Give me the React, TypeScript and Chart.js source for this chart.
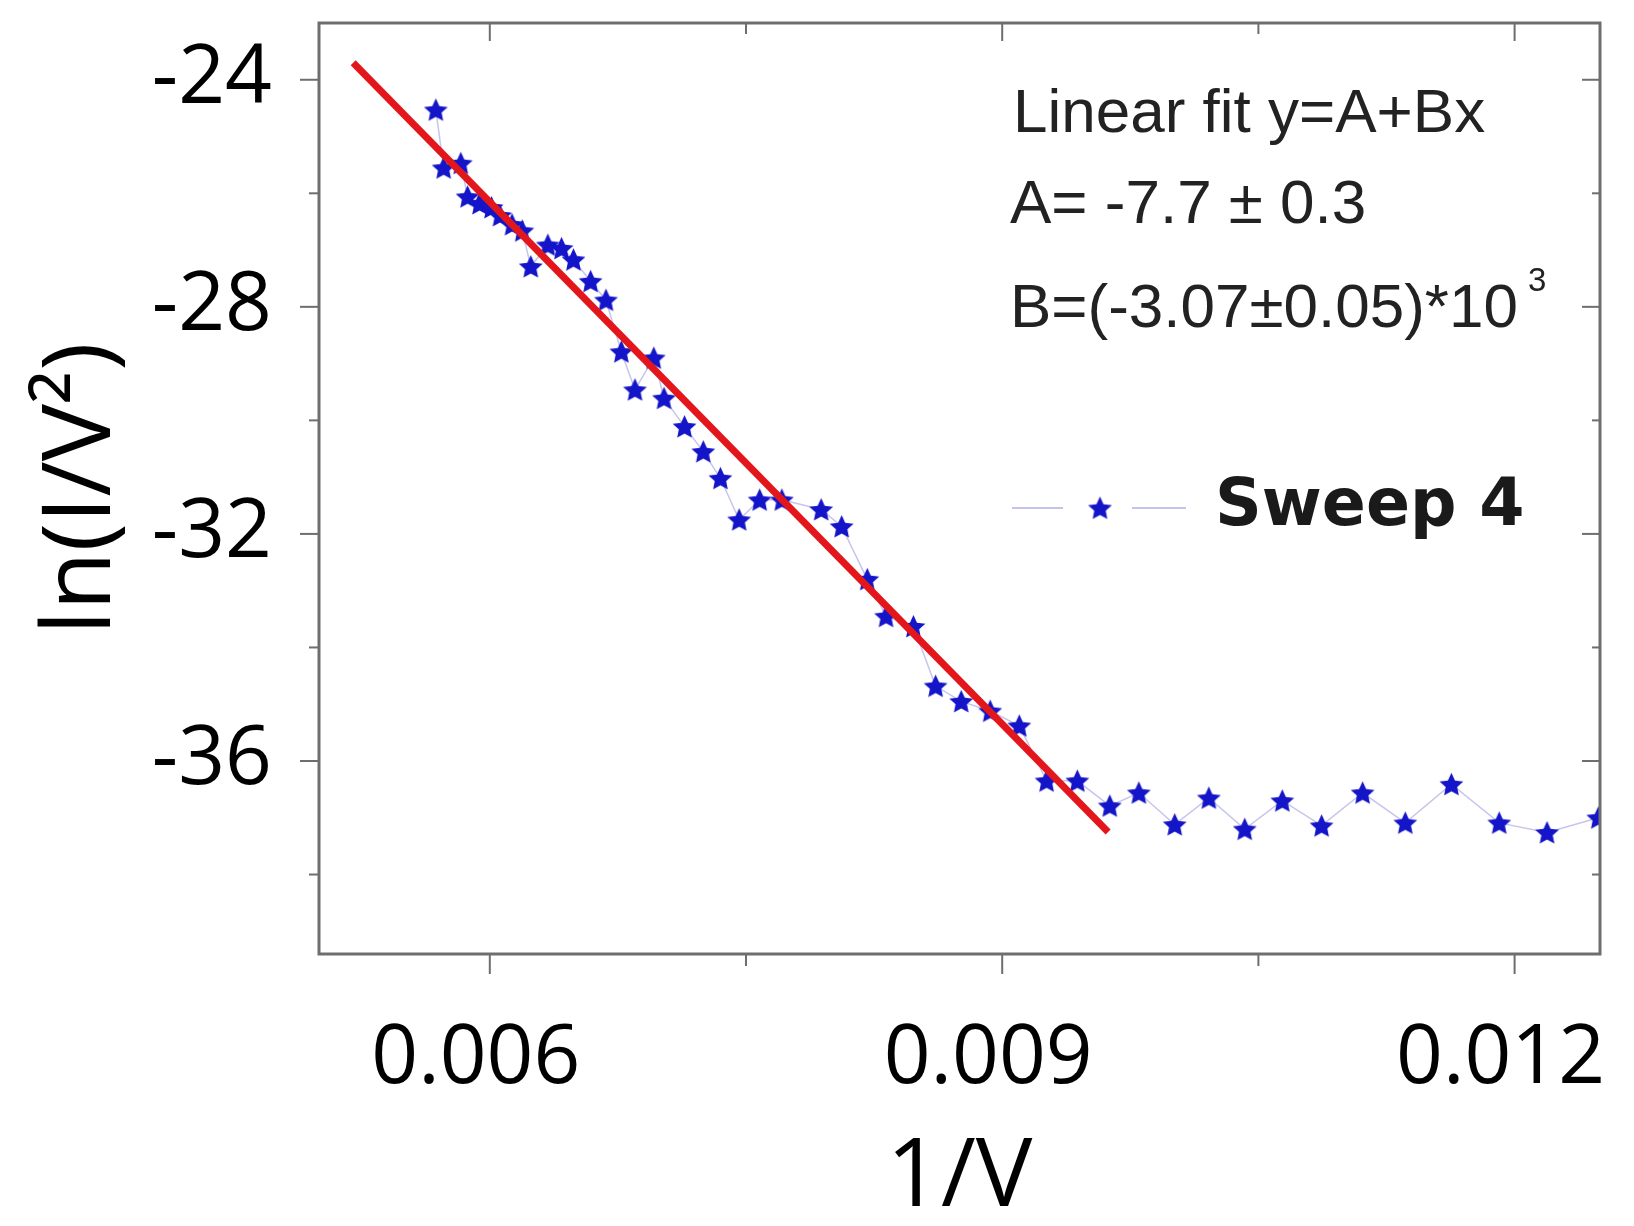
import React, { useEffect, useRef } from 'react';
import { Chart, registerables } from 'chart.js';

Chart.register(...registerables);

// ---- data ----
const sweepX = [
  0.005684, 0.00573, 0.00583, 0.00587, 0.00594, 0.00601, 0.00606, 0.00613, 0.00619, 0.00624,
  0.00634, 0.00642, 0.00649, 0.00659, 0.00668, 0.00677, 0.00685, 0.00696, 0.00702, 0.00714,
  0.00725, 0.00735, 0.00746, 0.00758, 0.00771, 0.00794, 0.00806, 0.00821, 0.00832, 0.00848,
  0.00861, 0.00876, 0.00893, 0.0091, 0.00926, 0.00944, 0.00963, 0.0098, 0.01001, 0.01021,
  0.01042, 0.01064, 0.01087, 0.01111, 0.01136, 0.01163, 0.01191, 0.01219, 0.01249,
];
const sweepY = [
  -24.53, -25.55, -25.47, -26.06, -26.18, -26.25, -26.39, -26.55, -26.66, -27.29,
  -26.91, -26.97, -27.17, -27.55, -27.88, -28.79, -29.46, -28.9, -29.61, -30.11,
  -30.55, -31.02, -31.75, -31.4, -31.4, -31.57, -31.87, -32.8, -33.45, -33.63,
  -34.68, -34.95, -35.12, -35.38, -36.35, -36.35, -36.79, -36.56, -37.12, -36.65,
  -37.2, -36.7, -37.14, -36.56, -37.09, -36.41, -37.09, -37.26, -37.0,
];
const fitX = [0.0052, 0.00962];
const fitY = [-23.7, -37.25];

const xRange = [0.005, 0.0125];
const yRange = [-39.4, -23];
const xTicks = [0.006, 0.009, 0.012];
const xMinorTicks = [0.0075, 0.0105];
const yTicks = [-24, -28, -32, -36];
const yMinorTicks = [-26, -30, -34, -38];

const xTitle = '1/V';
const yTitle = 'ln(I/V\u00B2)';
const seriesLabel = 'Sweep 4';
const fitLines = ['Linear fit y=A+Bx', 'A= -7.7 \u00B1 0.3', 'B=(-3.07\u00B10.05)*10'];
const fitExponent = '3';

const W = 1634;
const H = 1226;
const FRAME = '#6e6e6e';
const STAR_BLUE = '#1414c8';

function makeStar(size: number, color: string): HTMLCanvasElement {
  const c = document.createElement('canvas');
  c.width = size;
  c.height = size;
  const ctx = c.getContext('2d')!;
  const cx = size / 2;
  const cy = size / 2 + 1;
  const R = size / 2 - 1;
  const r = R * 0.48;
  ctx.beginPath();
  for (let i = 0; i < 10; i++) {
    const a = -Math.PI / 2 + (i * Math.PI) / 5;
    const rad = i % 2 === 0 ? R : r;
    ctx.lineTo(cx + rad * Math.cos(a), cy + rad * Math.sin(a));
  }
  ctx.closePath();
  ctx.fillStyle = color;
  ctx.fill();
  return c;
}

function makeDecorPlugin(star: HTMLCanvasElement) {
  return {
    id: 'decor',
    afterDraw(chart: any) {
      const { ctx, chartArea: a, scales } = chart;
      const xs = scales.x;
      const ys = scales.y;
      ctx.save();
      ctx.strokeStyle = FRAME;
      ctx.lineWidth = 3;
      ctx.strokeRect(a.left, a.top, a.right - a.left, a.bottom - a.top);
      ctx.lineWidth = 2;
      const line = (x1: number, y1: number, x2: number, y2: number) => {
        ctx.beginPath();
        ctx.moveTo(x1, y1);
        ctx.lineTo(x2, y2);
        ctx.stroke();
      };
      xTicks.forEach((v) => {
        const p = xs.getPixelForValue(v);
        line(p, a.bottom, p, a.bottom + 20);
        line(p, a.top, p, a.top + 18);
      });
      xMinorTicks.forEach((v) => {
        const p = xs.getPixelForValue(v);
        line(p, a.bottom, p, a.bottom + 12);
        line(p, a.top, p, a.top + 11);
      });
      yTicks.forEach((v) => {
        const p = ys.getPixelForValue(v);
        line(a.left - 19, p, a.left, p);
        line(a.right - 18, p, a.right, p);
      });
      yMinorTicks.forEach((v) => {
        const p = ys.getPixelForValue(v);
        line(a.left - 10, p, a.left, p);
        line(a.right - 8, p, a.right, p);
      });

      // fit annotation
      ctx.fillStyle = '#222';
      ctx.textBaseline = 'alphabetic';
      ctx.textAlign = 'left';
      ctx.font = '62px "Liberation Sans", Arial, sans-serif';
      ctx.fillText(fitLines[0], 1013, 132);
      ctx.fillText(fitLines[1], 1010, 223);
      ctx.fillText(fitLines[2], 1010, 327);
      const w3 = ctx.measureText(fitLines[2]).width;
      ctx.font = '33px "Liberation Sans", Arial, sans-serif';
      ctx.fillText(fitExponent, 1010 + w3 + 10, 291);

      // legend
      ctx.strokeStyle = 'rgba(110,110,210,0.55)';
      ctx.lineWidth = 1.5;
      line(1012, 508, 1063, 508);
      line(1132, 508, 1186, 508);
      ctx.drawImage(star, 1100 - star.width / 2, 508 - star.height / 2);
      ctx.fillStyle = '#1a1a1a';
      ctx.font = 'bold 65px "DejaVu Sans", sans-serif';
      ctx.fillText(seriesLabel, 1215, 525);
      ctx.restore();
    },
  };
}

export default function App() {
  const ref = useRef<HTMLCanvasElement>(null);
  useEffect(() => {
    if (!ref.current) return;
    const star = makeStar(27, STAR_BLUE);
    const chart: any = new Chart(ref.current, {
      type: 'scatter',
      data: {
        datasets: [
          {
            label: 'Linear fit',
            data: fitX.map((x, i) => ({ x, y: fitY[i] })),
            showLine: true,
            borderColor: '#e3161b',
            backgroundColor: '#e3161b',
            borderWidth: 7,
            pointRadius: 0,
            order: 0,
          },
          {
            label: seriesLabel,
            data: sweepX.map((x, i) => ({ x, y: sweepY[i] })),
            showLine: true,
            borderColor: 'rgba(110,110,210,0.4)',
            backgroundColor: STAR_BLUE,
            borderWidth: 1.5,
            pointStyle: star as any,
            pointRadius: 13,
            order: 1,
          },
        ],
      },
      options: {
        animation: false,
        responsive: false,
        devicePixelRatio: 1,
        layout: { padding: { top: 23, right: 34, left: 0, bottom: 0 } },
        plugins: { legend: { display: false }, tooltip: { enabled: false } },
        scales: {
          x: {
            type: 'linear',
            min: xRange[0],
            max: xRange[1],
            afterBuildTicks: (s: any) => {
              s.ticks = xTicks.map((v) => ({ value: v }));
            },
            afterFit: (s: any) => {
              s.height = H - 954;
              s.paddingLeft = 0;
              s.paddingRight = 0;
            },
            grid: { display: false, drawTicks: false },
            border: { display: false },
            ticks: {
              padding: 56,
              labelOffset: -14,
              color: '#000',
              font: { family: '"Open Sans"', size: 82 },
              callback: (v: any) => Number(v).toFixed(3),
            },
            title: {
              display: true,
              text: xTitle,
              color: '#000',
              font: { family: '"Open Sans"', size: 95 },
              padding: { top: 0, bottom: -10 },
            },
          },
          y: {
            type: 'linear',
            min: yRange[0],
            max: yRange[1],
            afterBuildTicks: (s: any) => {
              s.ticks = yTicks.map((v) => ({ value: v }));
            },
            afterFit: (s: any) => {
              s.width = 319;
              s.paddingTop = 0;
              s.paddingBottom = 0;
            },
            grid: { display: false, drawTicks: false },
            border: { display: false },
            ticks: {
              padding: 47,
              color: '#000',
              font: { family: '"Open Sans"', size: 82 },
              callback: (v: any) => String(v),
            },
            title: {
              display: true,
              text: yTitle,
              color: '#000',
              font: { family: '"Open Sans"', size: 96 },
              padding: { top: 25, bottom: 0 },
            },
          },
        },
      },
      plugins: [makeDecorPlugin(star)],
    });
    return () => chart.destroy();
  }, []);
  return (
    <div style={{ position: 'absolute', left: 0, top: 0, width: W, height: H, background: '#fff' }}>
      <canvas ref={ref} width={W} height={H} style={{ display: 'block' }} />
    </div>
  );
}
